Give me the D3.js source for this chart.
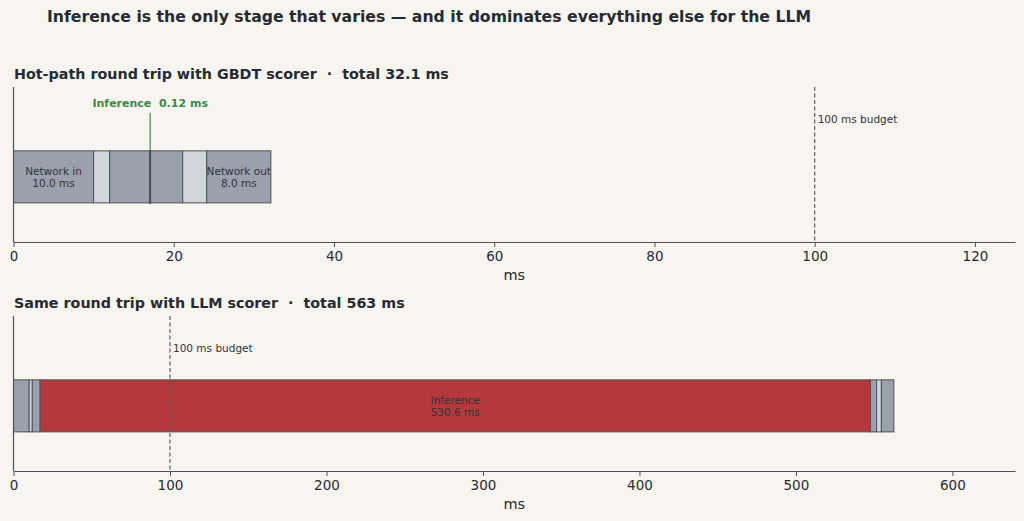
<!DOCTYPE html>
<html>
<head>
<meta charset="utf-8">
<script src="https://cdn.jsdelivr.net/npm/d3@7"></script>
<style>
  body { margin: 0; background: #f8f5f0; }
  svg { display: block; font-family: "DejaVu Sans", sans-serif; }
  text { white-space: pre; }
</style>
</head>
<body>
<div id="chart"></div>
<script>
// stage names and durations (ms), same order for both scorers
const stages = ["Network in", "Gateway", "Features", "Inference", "Post-process", "Serialize", "Network out"];
const kinds = ["net", "light", "mid", "infer", "mid", "light", "net"];
const gbdtMs = [10.0, 2.0, 5.0, 0.12, 4.0, 3.0, 8.0];
const llmMs = [10.0, 2.0, 5.0, 530.6, 4.0, 3.0, 8.0];
const topTicks = [0, 20, 40, 60, 80, 100, 120];
const bottomTicks = [0, 100, 200, 300, 400, 500, 600];
const budgetMs = 100;

const W = 1024, H = 521;
const textColor = "#262b33";
const edge = "#4b515b";

const svg = d3.select("#chart").append("svg")
  .attr("width", W).attr("height", H);

svg.append("rect").attr("width", W).attr("height", H).attr("fill", "#f8f5f0");

svg.append("text")
  .attr("x", 47).attr("y", 22)
  .attr("font-size", 15.7).attr("font-weight", "bold")
  .attr("fill", textColor)
  .text("Inference is the only stage that varies — and it dominates everything else for the LLM");

function panel(top, values, domainMax, ticks, title, inferStyle) {
  const left = 13.5, right = 1015;
  const plotTop = top + 7, plotBottom = top + 162;
  const x = d3.scaleLinear().domain([0, domainMax]).range([left, right]);
  const y = d3.scaleBand().domain(["bar"]).range([plotTop, plotBottom])
    .paddingInner(0).paddingOuter(0.99).align(0.62);

  svg.append("text")
    .attr("x", 14).attr("y", top - 1)
    .attr("font-size", 14.3).attr("font-weight", "bold")
    .attr("fill", textColor)
    .text(title);

  const starts = d3.cumsum([0, ...values]);
  const segs = values.map((v, i) => ({ v, i, x0: starts[i], x1: starts[i] + v, kind: kinds[i] }));
  const fill = { net: "#9ba1ac", light: "#d1d5dc", mid: "#9ba1ac", infer: inferStyle.fill };

  const g = svg.append("g");
  g.selectAll("rect")
    .data(segs)
    .join("rect")
    .attr("x", d => x(d.x0))
    .attr("width", d => Math.max(x(d.x1) - x(d.x0), 0.1))
    .attr("y", y("bar"))
    .attr("height", y.bandwidth())
    .attr("fill", d => fill[d.kind])
    .attr("stroke", edge)
    .attr("stroke-width", d => d.kind === "infer" && d.v < 1 ? 1.6 : 1);

  // labels inside wide segments
  const labelled = segs.filter(d => x(d.x1) - x(d.x0) > 60);
  const cy = y("bar") + y.bandwidth() / 2;
  g.selectAll("text")
    .data(labelled)
    .join("text")
    .attr("x", d => (x(d.x0) + x(d.x1)) / 2)
    .attr("y", cy)
    .attr("text-anchor", "middle")
    .attr("font-size", 10.5)
    .attr("fill", "#2f343d")
    .selectAll("tspan")
    .data(d => [stages[d.i], d.v.toFixed(1) + " ms"])
    .join("tspan")
    .attr("x", function () { return d3.select(this.parentNode).attr("x"); })
    .attr("dy", (d, i) => i === 0 ? "-0.2em" : "1.15em")
    .text(d => d);

  // budget line
  svg.append("line")
    .attr("x1", x(budgetMs)).attr("x2", x(budgetMs))
    .attr("y1", plotTop).attr("y2", plotBottom)
    .attr("stroke", "#555b65").attr("stroke-width", 1.2)
    .attr("stroke-dasharray", "4,2.5");
  svg.append("text")
    .attr("x", x(budgetMs) + 3).attr("y", plotTop + 36)
    .attr("font-size", 10.5).attr("fill", "#2f343d")
    .text("100 ms budget");

  // axes
  svg.append("line")
    .attr("x1", left).attr("x2", left)
    .attr("y1", plotTop).attr("y2", plotBottom)
    .attr("stroke", "#4b505a").attr("stroke-width", 1.2);

  const axis = svg.append("g")
    .attr("transform", `translate(0,${plotBottom})`)
    .call(d3.axisBottom(x).tickValues(ticks).tickSize(5).tickPadding(4).tickSizeOuter(0));
  axis.select(".domain").attr("stroke", "#4b505a").attr("stroke-width", 1.2);
  axis.selectAll(".tick line").attr("stroke", "#4b505a");
  axis.selectAll(".tick text")
    .attr("font-size", 13.5).attr("fill", textColor)
    .attr("font-family", "DejaVu Sans, sans-serif");

  svg.append("text")
    .attr("x", (left + right) / 2).attr("y", plotBottom + 38)
    .attr("text-anchor", "middle")
    .attr("font-size", 14.5).attr("fill", textColor)
    .text("ms");

  return { x, y, segs };
}

const p1 = panel(80, gbdtMs, 125, topTicks,
  "Hot-path round trip with GBDT scorer  ·  total " + d3.sum(gbdtMs).toFixed(1) + " ms",
  { fill: "#2b303a" });

// green callout for the tiny GBDT inference
const inf = p1.segs[3];
const ix = p1.x((inf.x0 + inf.x1) / 2);
svg.append("line")
  .attr("x1", ix).attr("x2", ix)
  .attr("y1", 113).attr("y2", p1.y("bar"))
  .attr("stroke", "#3a8a46").attr("stroke-width", 1.2);
svg.append("text")
  .attr("x", ix).attr("y", 107)
  .attr("text-anchor", "middle")
  .attr("font-size", 11).attr("font-weight", "bold")
  .attr("fill", "#3a8a46")
  .text("Inference  " + gbdtMs[3].toFixed(2) + " ms");

panel(309, llmMs, 640, bottomTicks,
  "Same round trip with LLM scorer  ·  total " + Math.round(d3.sum(llmMs)) + " ms",
  { fill: "#b5393a" });
</script>
</body>
</html>
